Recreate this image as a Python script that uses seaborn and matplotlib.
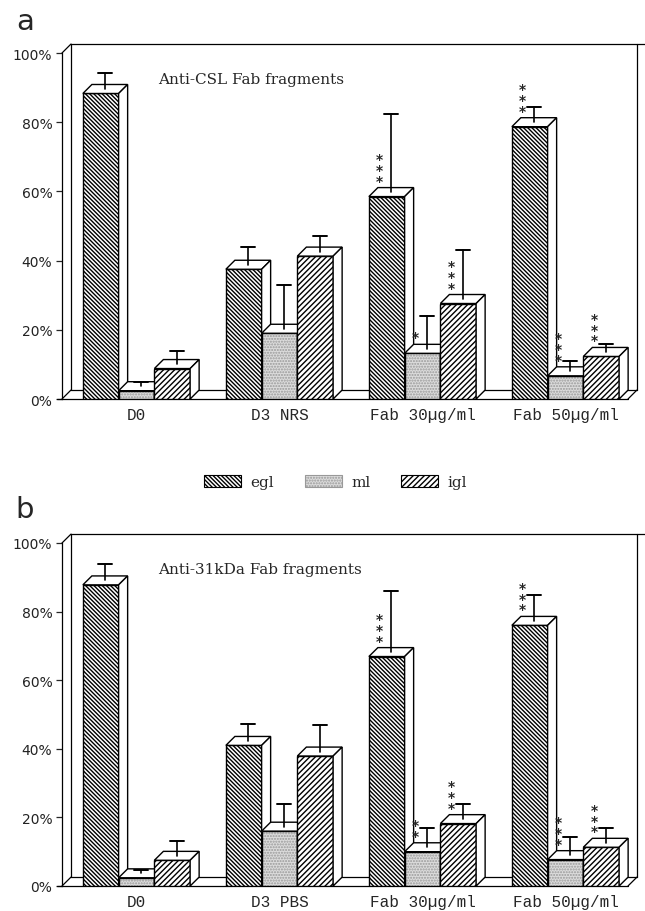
import numpy as np
import pandas as pd
import matplotlib
matplotlib.use('Agg')
import matplotlib.pyplot as plt
from matplotlib.patches import Polygon, Rectangle, Patch
import seaborn as sns

# layers of the cerebellum (hue) and experimental groups
layers = ['egl', 'ml', 'igl']
groups_a = ['D0', 'D3 NRS', 'Fab 30µg/ml', 'Fab 50µg/ml']
groups_b = ['D0', 'D3 PBS', 'Fab 30µg/ml', 'Fab 50µg/ml']
yticks = [0, 20, 40, 60, 80, 100]

a_egl = [88.3, 37.5, 58.5, 78.7]
a_ml = [2.4, 19.0, 13.2, 6.7]
a_igl = [8.8, 41.3, 27.6, 12.3]
a_egl_sd = [5.9, 6.3, 23.8, 5.7]
a_ml_sd = [2.6, 14.0, 10.8, 4.3]
a_igl_sd = [5.2, 5.8, 15.4, 3.7]
a_stars = {'egl': [0, 0, 3, 3], 'ml': [0, 0, 1, 3], 'igl': [0, 0, 3, 3]}

# panel b - anti-31kDa Fab fragments
b_egl = [87.8, 41.0, 66.9, 76.0]
b_ml = [2.4, 16.0, 10.0, 7.7]
b_igl = [7.5, 37.9, 18.2, 11.3]
b_egl_sd = [6.0, 6.3, 19.1, 8.7]
b_ml_sd = [2.3, 7.8, 7.0, 6.7]
b_igl_sd = [5.5, 9.1, 5.6, 5.7]
b_stars = {'egl': [0, 0, 3, 3], 'ml': [0, 0, 2, 3], 'igl': [0, 0, 3, 3]}

styles = {
    'egl': dict(face='white', hatch='\\' * 8, hc='black'),
    'ml': dict(face='#dcdcdc', hatch='......', hc='#999999'),
    'igl': dict(face='white', hatch='/' * 6, hc='black'),
}

sns.set_theme(style='white')
plt.rcParams['font.family'] = ['DejaVu Sans']
plt.rcParams['hatch.linewidth'] = 1.0

XL, XR = -0.521, 3.556      # x range of the axes (category units)
X_FLOOR = 3.437             # right end of the floor
DDX, DDY = 0.063, 2.6       # 3d depth offset


def make_df(groups, egl, ml, igl):
    rows = []
    for layer, vals in zip(layers, [egl, ml, igl]):
        for g, v in zip(groups, vals):
            rows.append({'group': g, 'layer': layer, 'value': v})
    return pd.DataFrame(rows)


def draw_frame(ax):
    kw = dict(color='black', lw=0.9, clip_on=False)
    ax.plot([XL - 0.035, X_FLOOR], [0, 0], zorder=2, **kw)
    ax.plot([XL, XL + DDX], [0, DDY], zorder=1, **kw)
    ax.plot([XL, XL + DDX], [100, 100 + DDY], zorder=1, **kw)
    ax.plot([XL + DDX, XL + DDX], [DDY, 100 + DDY], zorder=1, **kw)
    ax.plot([XL + DDX, X_FLOOR + DDX], [DDY, DDY], zorder=1, **kw)
    ax.plot([X_FLOOR, X_FLOOR + DDX], [0, DDY], zorder=1, **kw)
    ax.plot([X_FLOOR + DDX, X_FLOOR + DDX], [DDY, 100 + DDY], zorder=1, **kw)
    ax.plot([XL + DDX, XR], [100 + DDY, 100 + DDY], zorder=1, **kw)


def draw_panel(ax, groups, egl, ml, igl, sds, stars, title):
    df = make_df(groups, egl, ml, igl)
    sns.barplot(data=df, x='group', y='value', hue='layer', order=groups,
                hue_order=layers, palette=['white', '#dcdcdc', 'white'],
                width=0.75, errorbar=None, legend=False, saturation=1, ax=ax)

    bars = []
    for i, layer in enumerate(layers):
        for j, p in enumerate(ax.containers[i]):
            bars.append((p.get_x(), layer, j, p))
    bars.sort(key=lambda b: b[0])

    for k, (x0, layer, j, p) in enumerate(bars):
        st = styles[layer]
        z = 3 + k
        w = p.get_width()
        h = p.get_height()
        p.set_facecolor(st['face'])
        p.set_edgecolor(st['hc'])
        p.set_hatch(st['hatch'])
        p.set_linewidth(0.5)
        p.set_zorder(z)
        ax.add_patch(Rectangle((x0, 0), w, h, fill=False, ec='black', lw=1.0, zorder=z + 0.1))
        top = [(x0, h), (x0 + w, h), (x0 + w + DDX, h + DDY), (x0 + DDX, h + DDY)]
        side = [(x0 + w, 0), (x0 + w + DDX, DDY), (x0 + w + DDX, h + DDY), (x0 + w, h)]
        for pts in (top, side):
            ax.add_patch(Polygon(pts, closed=True, fc='white', ec='black', lw=1.0,
                                 zorder=z + 0.2, clip_on=False))

        # error bar from the top face up
        sd = sds[layer][j]
        xc = x0 + w / 2 + DDX / 2
        ax.plot([xc, xc], [h + DDY / 2, h + sd], color='black', lw=1.2,
                zorder=60, clip_on=False)
        ax.plot([xc - 0.05, xc + 0.05], [h + sd, h + sd], color='black',
                lw=1.4, zorder=60, clip_on=False)

        n = stars[layer][j]
        if n:
            ax.text(x0 + 0.3 * w, h + 2.6, '\n'.join(['*'] * n), ha='center',
                    va='bottom', fontsize=10, fontweight='bold', linespacing=0.7, zorder=70)

    draw_frame(ax)
    ax.set_xlim(XL, XR)
    ax.set_ylim(0, 100)
    ax.set_yticks(yticks)
    ax.set_yticklabels([f'{v}%' for v in yticks], fontsize=10, color='#222222')
    ax.set_xticks(range(len(groups)))
    ax.set_xticklabels(groups, fontfamily='Liberation Mono', fontsize=11.5)
    ax.tick_params(axis='x', length=0, pad=6)
    ax.tick_params(axis='y', length=4, width=0.9, direction='out', pad=3, left=True)
    for s in ['top', 'right', 'bottom']:
        ax.spines[s].set_visible(False)
    ax.spines['left'].set_color('black')
    ax.spines['left'].set_linewidth(0.9)
    ax.set_xlabel('')
    ax.set_ylabel('')
    ax.patch.set_alpha(0)
    ax.text(0.15, 92.5, title, fontsize=11, family='DejaVu Serif', va='center', ha='left')


fig = plt.figure(figsize=(6.45, 9.12), dpi=100)
ax_a = fig.add_axes([62 / 645, (912 - 400) / 912, 583 / 645, 346 / 912])
ax_b = fig.add_axes([62 / 645, (912 - 887) / 912, 583 / 645, 343 / 912])

draw_panel(ax_a, groups_a, a_egl, a_ml, a_igl,
           {'egl': a_egl_sd, 'ml': a_ml_sd, 'igl': a_igl_sd}, a_stars,
           'Anti-CSL Fab fragments')
draw_panel(ax_b, groups_b, b_egl, b_ml, b_igl,
           {'egl': b_egl_sd, 'ml': b_ml_sd, 'igl': b_igl_sd}, b_stars,
           'Anti-31kDa Fab fragments')

handles = [Patch(facecolor=styles[l]['face'], edgecolor=styles[l]['hc'] if l == 'ml' else 'black',
                 hatch=styles[l]['hatch'], lw=0.8) for l in layers]
fig.legend(handles, layers, loc='center', bbox_to_anchor=(0.52, 1 - 483 / 912), ncol=3,
           frameon=False, handlelength=2.45, handleheight=0.8, handletextpad=0.6,
           columnspacing=2.0, prop={'family': 'DejaVu Serif', 'size': 11})

fig.text(25 / 645, 1 - 22 / 912, 'a', fontsize=21, ha='center', va='center')
fig.text(25 / 645, 1 - 510 / 912, 'b', fontsize=21, ha='center', va='center')

fig.savefig('out.png', dpi=100, facecolor='white')
